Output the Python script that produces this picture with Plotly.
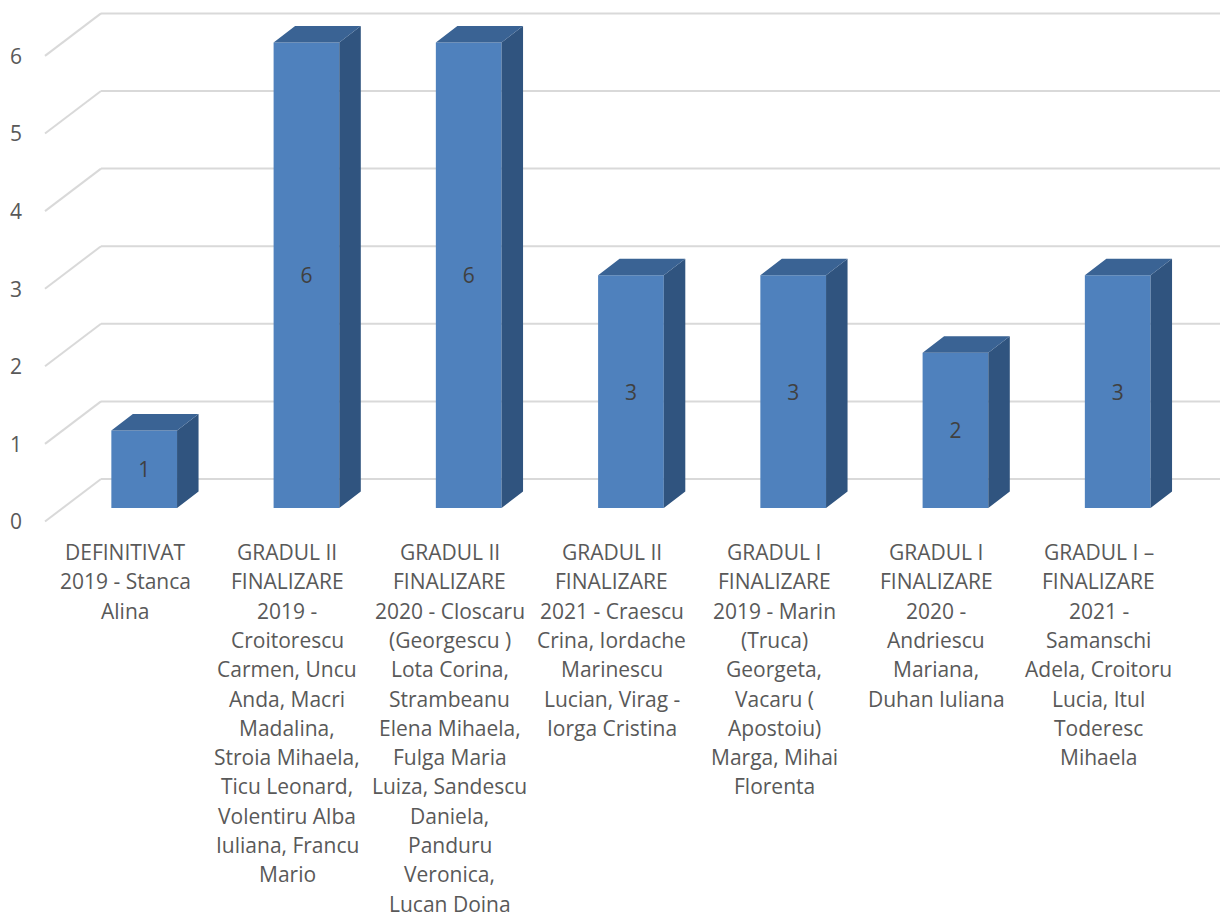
import plotly.graph_objects as go

# ---------- data ----------
category_lines = [
    ["DEFINITIVAT", "2019 - Stanca", "Alina"],
    ["GRADUL II", "FINALIZARE", "2019 -", "Croitorescu", "Carmen, Uncu", "Anda, Macri", "Madalina,",
     "Stroia Mihaela,", "Ticu Leonard,", "Volentiru Alba", "Iuliana, Francu", "Mario"],
    ["GRADUL II", "FINALIZARE", "2020 - Closcaru", "(Georgescu )", "Lota Corina,", "Strambeanu",
     "Elena Mihaela,", "Fulga Maria", "Luiza, Sandescu", "Daniela,", "Panduru", "Veronica,", "Lucan Doina"],
    ["GRADUL II", "FINALIZARE", "2021 - Craescu", "Crina, Iordache", "Marinescu", "Lucian, Virag -", "Iorga Cristina"],
    ["GRADUL I", "FINALIZARE", "2019 - Marin", "(Truca)", "Georgeta,", "Vacaru (", "Apostoiu)", "Marga, Mihai", "Florenta"],
    ["GRADUL I", "FINALIZARE", "2020 -", "Andriescu", "Mariana,", "Duhan Iuliana"],
    ["GRADUL I –", "FINALIZARE", "2021 -", "Samanschi", "Adela, Croitoru", "Lucia, Itul", "Toderesc", "Mihaela"],
]
values = [1, 6, 6, 3, 3, 2, 3]
y_ticks = [0, 1, 2, 3, 4, 5, 6]

# ---------- styling / geometry ----------
PAGE = 8               # the page's own margin around the plot
W, H = 1228 - PAGE, 913 - PAGE
FONT = "Open Sans"
FONT_SIZE = 21
FRONT, SIDE, TOP = "#4F81BD", "#30547F", "#3A6394"
GRID = "#D9D9D9"
TEXT = "#595959"
LABEL = "#404040"

PX_X = 162.25          # pixels per category
PX_Y = 77.6            # pixels per value unit
X0_PX = 144.2 - PAGE   # pixel of first category centre
Y0_PX = 508 - PAGE     # pixel of value 0 on a bar front
LEFT, PLOT_BOTTOM = 22, 532
BAR_W = 65.7 / PX_X
BAR_DX, BAR_DY = 21.5 / PX_X, 16.5 / PX_Y
WALL_FRONT_X = (45 - PAGE - X0_PX) / PX_X
WALL_BACK_X = (101 - PAGE - X0_PX) / PX_X
WALL_FRONT_DY = -13.5 / PX_Y
WALL_BACK_DY = 29 / PX_Y
x_range = [(LEFT - X0_PX) / PX_X, (W - X0_PX) / PX_X]
y_range = [(Y0_PX - PLOT_BOTTOM) / PX_Y, Y0_PX / PX_Y]

xs = list(range(len(values)))

# ---------- 3-D faces derived from the values ----------
side_x, side_y, top_x, top_y = [], [], [], []
for x, v in zip(xs, values):
    l, r = x - BAR_W / 2, x + BAR_W / 2
    side_x += [r, r + BAR_DX, r + BAR_DX, r, r, None]
    side_y += [0, BAR_DY, v + BAR_DY, v, 0, None]
    top_x += [l, l + BAR_DX, r + BAR_DX, r, l, None]
    top_y += [v, v + BAR_DY, v + BAR_DY, v, v, None]

fig = go.Figure()
fig.add_trace(go.Bar(
    x=xs, y=values, width=BAR_W, marker=dict(color=FRONT, line=dict(width=0)),
    text=[str(v) for v in values], textposition="inside", insidetextanchor="middle",
    textangle=0, constraintext="none", textfont=dict(family=FONT, size=FONT_SIZE, color=LABEL),
    hoverinfo="skip", showlegend=False,
))
fig.add_trace(go.Scatter(x=side_x, y=side_y, mode="lines", line=dict(width=0), fill="toself",
                         fillcolor=SIDE, hoverinfo="skip", showlegend=False))
fig.add_trace(go.Scatter(x=top_x, y=top_y, mode="lines", line=dict(width=0), fill="toself",
                         fillcolor=TOP, hoverinfo="skip", showlegend=False))

# ---------- wall grid ----------
shapes = []
for t in y_ticks:
    line = dict(color=GRID, width=2)
    shapes.append(dict(type="line", xref="x", yref="y", layer="below", line=line,
                       x0=WALL_FRONT_X, y0=t + WALL_FRONT_DY, x1=WALL_BACK_X, y1=t + WALL_BACK_DY))
    shapes.append(dict(type="line", xref="x", yref="y", layer="below", line=line,
                       x0=WALL_BACK_X, y0=t + WALL_BACK_DY, x1=x_range[1], y1=t + WALL_BACK_DY))

# ---------- category labels, one annotation per line for the wide line pitch ----------
annotations = []
for x, lines in zip(xs, category_lines):
    for i, line in enumerate(lines):
        annotations.append(dict(
            x=x, y=0, xref="x", yref="y", text=line, showarrow=False,
            xanchor="center", yanchor="middle", xshift=-19, yshift=-(44 + 29.3 * i),
            font=dict(family=FONT, size=FONT_SIZE, color=TEXT),
        ))

fig.update_layout(
    width=W, height=H, autosize=False, paper_bgcolor="white", plot_bgcolor="white",
    margin=dict(l=LEFT, r=0, t=0, b=H - PLOT_BOTTOM, pad=0),
    showlegend=False, shapes=shapes, annotations=annotations,
    font=dict(family=FONT, size=FONT_SIZE, color=TEXT),
    xaxis=dict(range=x_range, visible=False, fixedrange=True),
    yaxis=dict(range=y_range, tickmode="array", tickvals=y_ticks, ticktext=[str(t) for t in y_ticks],
               showgrid=False, zeroline=False, showline=False, ticks="", ticklabelstandoff=7,
               ticklabelshift=14, fixedrange=True,
               tickfont=dict(family=FONT, size=FONT_SIZE, color=TEXT)),
)
fig.write_html("out.html", config={"displayModeBar": False})
